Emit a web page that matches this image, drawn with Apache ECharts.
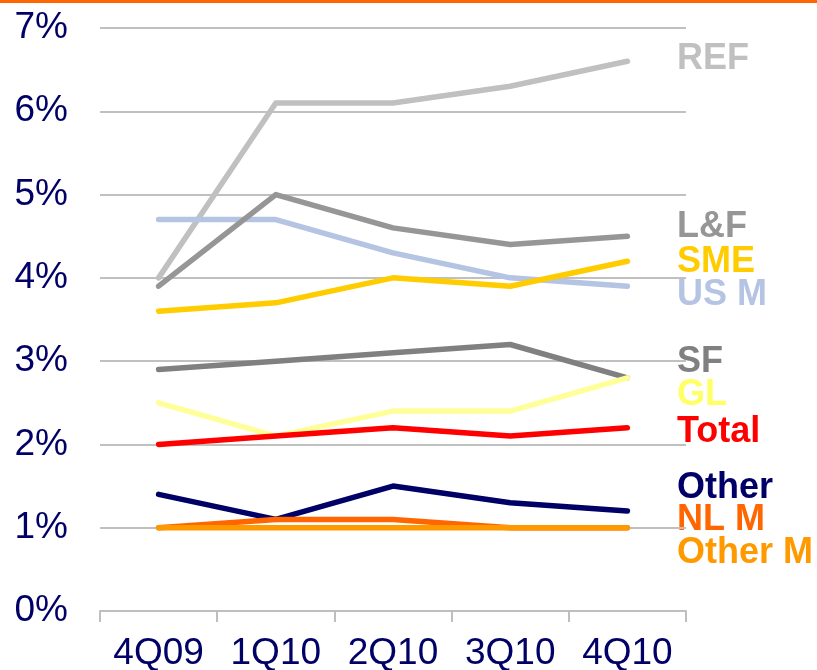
<!DOCTYPE html>
<html>
<head>
<meta charset="utf-8">
<script src="https://cdn.jsdelivr.net/npm/echarts@6/dist/echarts.min.js"></script>
<style>
  html, body { margin: 0; padding: 0; background: #fff; }
  #main { width: 817px; height: 670px; }
</style>
</head>
<body>
<div id="main"></div>
<script>
// quarters on the x axis
const quarters = ['4Q09', '1Q10', '2Q10', '3Q10', '4Q10'];

// values in percent
const ref = [4.0, 6.1, 6.1, 6.3, 6.6];
const lf = [3.9, 5.0, 4.6, 4.4, 4.5];
const usM = [4.7, 4.7, 4.3, 4.0, 3.9];
const sme = [3.6, 3.7, 4.0, 3.9, 4.2];
const sf = [2.9, 3.0, 3.1, 3.2, 2.8];
const gl = [2.5, 2.1, 2.4, 2.4, 2.8];
const total = [2.0, 2.1, 2.2, 2.1, 2.2];
const other = [1.4, 1.1, 1.5, 1.3, 1.2];
const nlM = [1.0, 1.1, 1.1, 1.0, 1.0];
const otherM = [1.0, 1.0, 1.0, 1.0, 1.0];

// name, data, colour, label y position
const lines = [
  ['REF', ref, '#C0C0C0', 57],
  ['US M', usM, '#B4C4E2', 293],
  ['L&F', lf, '#969696', 225],
  ['SME', sme, '#FFCC00', 260],
  ['SF', sf, '#808080', 360],
  ['GL', gl, '#FFFF99', 393],
  ['Total', total, '#FF0000', 430],
  ['Other', other, '#000066', 486],
  ['NL M', nlM, '#FF6600', 518],
  ['Other M', otherM, '#FF9900', 551],
];

const myChart = echarts.init(document.getElementById('main'));

const series = lines.map((l) => ({
  name: l[0],
  type: 'line',
  data: l[1],
  symbol: 'none',
  lineStyle: { color: l[2], width: 5.5, cap: 'round', join: 'round' },
  itemStyle: { color: l[2] },
}));

// series names on the right, stacked like the original
const labels = lines.map((l) => ({
  type: 'text',
  left: 677,
  top: l[3] - 16,
  style: {
    text: l[0],
    fill: l[2] === '#FFFF99' ? '#FFFF66' : l[2],
    font: 'bold 36px "Liberation Sans", Arial, sans-serif',
  },
}));

const option = {
  animation: false,
  grid: { left: 100, right: 131, top: 28, bottom: 59, containLabel: false, outerBoundsMode: 'none' },
  xAxis: {
    type: 'category',
    data: quarters,
    boundaryGap: true,
    axisLine: { lineStyle: { color: '#BFBFBF', width: 2 } },
    axisTick: { show: true, interval: 0, length: 11, lineStyle: { color: '#BFBFBF', width: 2 } },
    axisLabel: {
      interval: 0,
      color: '#000066',
      fontSize: 37,
      fontFamily: '"Liberation Sans", Arial, sans-serif',
      margin: 24,
    },
  },
  yAxis: {
    type: 'value',
    min: 0,
    max: 7,
    interval: 1,
    axisLine: { show: false },
    axisTick: { show: false },
    splitLine: { lineStyle: { color: '#C0C0C0', width: 2 } },
    axisLabel: {
      color: '#000066',
      fontSize: 37,
      fontFamily: '"Liberation Sans", Arial, sans-serif',
      margin: 32,
      formatter: '{value}%',
    },
  },
  graphic: [
    { type: 'rect', left: 0, top: 0, shape: { width: 817, height: 3 }, style: { fill: '#FF6600' } },
    ...labels,
  ],
  series: series,
};

myChart.setOption(option);
</script>
</body>
</html>
